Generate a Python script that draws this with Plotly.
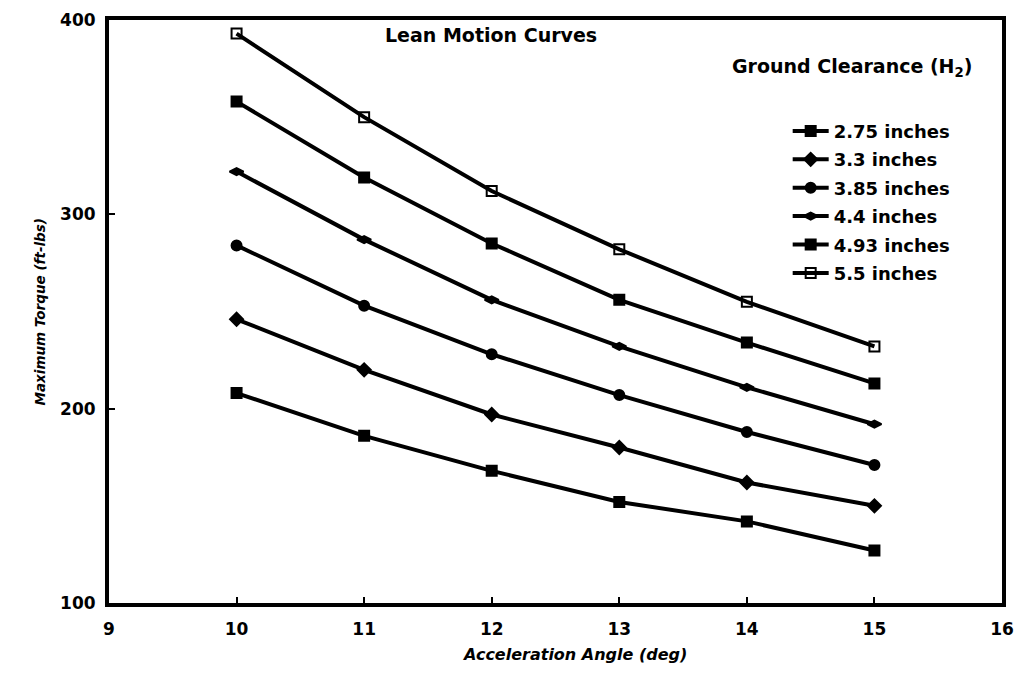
import plotly.graph_objects as go

angles = [10, 11, 12, 13, 14, 15]
clearance_labels = ["2.75 inches", "3.3 inches", "3.85 inches", "4.4 inches", "4.93 inches", "5.5 inches"]
torque_275 = [208, 186, 168, 152, 142, 127]
torque_330 = [246, 220, 197, 180, 162, 150]
torque_385 = [284, 253, 228, 207, 188, 171]
torque_440 = [322, 287, 256, 232, 211, 192]
torque_493 = [358, 319, 285, 256, 234, 213]
torque_550 = [393, 350, 312, 282, 255, 232]

series = [torque_275, torque_330, torque_385, torque_440, torque_493, torque_550]
symbols = ["square", "diamond", "circle", "diamond-wide", "square", "square-open"]

FONT = "DejaVu Sans"

fig = go.Figure()
for lab, vals, sym in zip(clearance_labels, series, symbols):
    fig.add_trace(go.Scatter(
        x=angles, y=vals, name=lab, mode="lines+markers", legendgroup=lab,
        line=dict(color="black", width=4),
        marker=dict(symbol=sym, size=10, color="black",
                    line=dict(color="black", width=2)),
    ))

fig.update_layout(
    width=1028, height=696,
    margin=dict(l=101, r=34, t=12, b=101),
    paper_bgcolor="white", plot_bgcolor="white",
    font=dict(family=FONT, color="black", size=16),
    showlegend=True,
    legend=dict(
        x=0.76, y=0.841, xanchor="left", yanchor="top",
        bgcolor="rgba(0,0,0,0)",
        font=dict(family=FONT, size=18, weight="bold", color="black"),
        itemwidth=36, tracegroupgap=2,
    ),
    xaxis=dict(
        range=[9, 16], dtick=1, tick0=9, automargin=False,
        showline=True, linecolor="black", linewidth=4, mirror=True,
        ticks="inside", ticklen=6, tickwidth=2, tickcolor="black",
        showgrid=False, zeroline=False, ticklabelstandoff=8,
        ticklabeloverflow="allow",
        tickfont=dict(family=FONT, size=17, weight="bold"),
    ),
    yaxis=dict(
        range=[100, 400], dtick=100, automargin=False,
        showline=True, linecolor="black", linewidth=4, mirror=True,
        ticks="inside", ticklen=6, tickwidth=2, tickcolor="black",
        showgrid=False, zeroline=False, ticklabelstandoff=6,
        ticklabeloverflow="allow",
        tickfont=dict(family=FONT, size=17, weight="bold"),
    ),
    annotations=[
        dict(text="<b>Lean Motion Curves</b>", xref="paper", yref="paper",
             x=0.428, y=0.974, xanchor="center", yanchor="middle", showarrow=False,
             font=dict(family=FONT, size=19)),
        dict(text="<b>Ground Clearance (H<sub>2</sub>)</b>", xref="paper", yref="paper",
             x=0.695, y=0.918, xanchor="left", yanchor="middle", showarrow=False,
             font=dict(family=FONT, size=19)),
        dict(text="<b><i>Acceleration Angle (deg)</i></b>", xref="paper", yref="paper",
             x=0.521, y=-0.089, xanchor="center", yanchor="middle", showarrow=False,
             font=dict(family=FONT, size=16)),
        dict(text="<b><i>Maximum Torque (ft-lbs)</i></b>", xref="paper", yref="paper",
             x=-0.0773, y=0.5, xanchor="center", yanchor="middle", showarrow=False,
             textangle=-90, font=dict(family=FONT, size=13.5)),
    ],
)

fig.write_html("out.html")
